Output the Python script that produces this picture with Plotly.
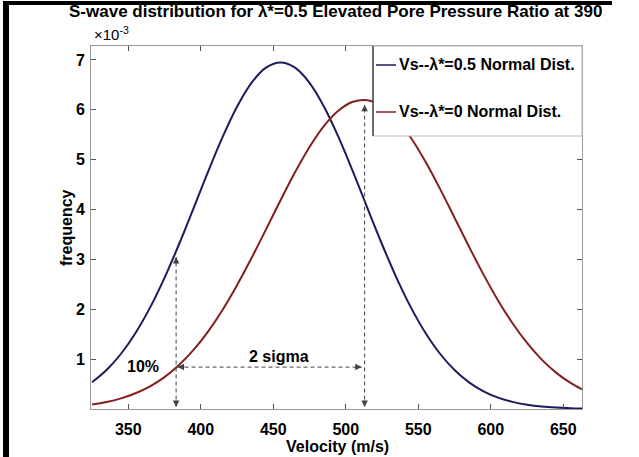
import plotly.graph_objects as go

# ---- data (frequency values in units of 1e-3) ----
velocity = [325, 335, 345, 355, 365, 375, 385, 395, 405, 415, 425, 435, 445, 455,
            465, 475, 485, 495, 505, 515, 525, 535, 545, 555, 565, 575, 585, 595,
            605, 615, 625, 635, 645, 655, 663]
freq_lambda05 = [0.535, 0.781, 1.108, 1.524, 2.033, 2.631, 3.304, 4.025, 4.756, 5.452,
                 6.063, 6.541, 6.845, 6.950, 6.845, 6.541, 6.063, 5.452, 4.756, 4.025,
                 3.304, 2.631, 2.033, 1.524, 1.108, 0.781, 0.535, 0.355, 0.229, 0.143,
                 0.087, 0.051, 0.029, 0.016, 0.010]
freq_lambda0 = [0.090, 0.140, 0.213, 0.315, 0.454, 0.640, 0.882, 1.184, 1.553, 1.987,
                2.483, 3.027, 3.603, 4.186, 4.747, 5.254, 5.677, 5.987, 6.163, 6.193,
                6.075, 5.816, 5.435, 4.957, 4.414, 3.837, 3.255, 2.695, 2.178, 1.719,
                1.324, 0.995, 0.730, 0.523, 0.393]
series_names = ["Vs--λ*=0.5 Normal Dist.", "Vs--λ*=0 Normal Dist."]
x_ticks = [350, 400, 450, 500, 550, 600, 650]
y_ticks = [1, 2, 3, 4, 5, 6, 7]

# annotation markers (data units)
ten_pct_x = 383        # 10% point on lambda*=0 curve
ten_pct_top = 3.05     # where vertical line meets lambda*=0.5 curve
ten_pct_y = 0.84       # level of the 2-sigma arrow
mean0_x = 513          # mean of lambda*=0 curve
mean0_top = 6.1

BLUE = "#1c1c5c"
RED = "#822020"
DASH = "#444444"
FONT = "Liberation Sans, Arial, sans-serif"

fig = go.Figure()
fig.add_trace(go.Scatter(x=velocity, y=freq_lambda05, mode="lines", name=series_names[0],
                         line=dict(color=BLUE, width=2, shape="spline"), showlegend=False))
fig.add_trace(go.Scatter(x=velocity, y=freq_lambda0, mode="lines", name=series_names[1],
                         line=dict(color=RED, width=2, shape="spline"), showlegend=False))

L, R, T, B = 91, 57, 46, 48
W, H = 639, 457
PW, PH = W - L - R, H - T - B


def px(xp):
    return (xp - L) / PW


def py(yp):
    return (H - B - yp) / PH


shapes = []
# dashed guide lines
dash = dict(color=DASH, width=1, dash="4px,3px")
shapes.append(dict(type="line", xref="x", yref="y", x0=ten_pct_x, x1=ten_pct_x,
                   y0=0.05, y1=ten_pct_top, line=dash))
shapes.append(dict(type="line", xref="x", yref="y", x0=mean0_x, x1=mean0_x,
                   y0=0.05, y1=mean0_top, line=dash))
shapes.append(dict(type="line", xref="x", yref="y", x0=ten_pct_x + 1, x1=mean0_x - 2,
                   y0=ten_pct_y, y1=ten_pct_y, line=dash))
# legend box
shapes.append(dict(type="rect", xref="paper", yref="paper", x0=px(373), x1=1, y0=py(136), y1=1,
                   line=dict(color="#bbbbbb", width=1), fillcolor="white", layer="above"))
shapes.append(dict(type="line", xref="paper", yref="paper", x0=px(373), x1=px(373), y0=py(136), y1=1,
                   line=dict(color="#222222", width=1.2), layer="above"))
# legend line samples
shapes.append(dict(type="line", xref="paper", yref="paper", x0=px(376), x1=px(396), y0=py(65), y1=py(65),
                   line=dict(color=BLUE, width=1.5), layer="above"))
shapes.append(dict(type="line", xref="paper", yref="paper", x0=px(376), x1=px(396), y0=py(112), y1=py(112),
                   line=dict(color=RED, width=1.5), layer="above"))
# black frame of the screenshot
shapes.append(dict(type="rect", xref="paper", yref="paper", x0=px(3), x1=px(9), y0=py(457), y1=py(1),
                   fillcolor="black", line=dict(width=0), layer="above"))
shapes.append(dict(type="rect", xref="paper", yref="paper", x0=px(3), x1=px(612), y0=py(5), y1=py(1),
                   fillcolor="black", line=dict(width=0), layer="above"))

ann = []


def arrow(x, y, ax, ay):
    ann.append(dict(x=x, y=y, xref="x", yref="y", ax=ax, ay=ay, axref="pixel", ayref="pixel",
                    text="", showarrow=True, arrowhead=2, arrowsize=1.3, arrowwidth=1,
                    arrowcolor=DASH))


arrow(ten_pct_x, ten_pct_top, 0, 8)
arrow(ten_pct_x, 0.04, 0, -8)
arrow(mean0_x, mean0_top, 0, 8)
arrow(mean0_x, 0.04, 0, -8)
arrow(ten_pct_x + 1, ten_pct_y, 8, 0)
arrow(mean0_x - 2, ten_pct_y, -8, 0)

bold = dict(family=FONT, size=16, color="black", weight="bold")
ann.append(dict(x=454, y=1.06, xref="x", yref="y", text="2 sigma", showarrow=False, font=bold))
ann.append(dict(x=360, y=0.86, xref="x", yref="y", text="10%", showarrow=False, font=bold))
# legend texts
for name, yy in zip(series_names, [65, 112]):
    ann.append(dict(x=px(397), y=py(yy), xref="paper", yref="paper", text=name, showarrow=False,
                    xanchor="left", yanchor="middle",
                    font=dict(family=FONT, size=16, color="black", weight="bold")))
# exponent label
ann.append(dict(x=px(92), y=py(45), xref="paper", yref="paper", text="×10<sup>-3</sup>",
                showarrow=False, xanchor="left", yanchor="bottom",
                font=dict(family=FONT, size=15, color="black")))
# axis titles
ann.append(dict(x=px(67), y=py(228), xref="paper", yref="paper", text="frequency", textangle=-90,
                showarrow=False, xanchor="center", yanchor="middle",
                font=dict(family=FONT, size=16, color="black", weight="bold")))
ann.append(dict(x=px(337), y=py(446), xref="paper", yref="paper", text="Velocity (m/s)",
                showarrow=False, xanchor="center", yanchor="middle",
                font=dict(family=FONT, size=16, color="black", weight="bold")))
# title
ann.append(dict(x=px(335), y=py(12), xref="paper", yref="paper",
                text="S-wave distribution for λ*=0.5 Elevated Pore Pressure Ratio at 390",
                showarrow=False, xanchor="center", yanchor="middle",
                font=dict(family=FONT, size=17, color="black", weight="bold")))

axis_common = dict(showgrid=False, zeroline=False, showline=True, linecolor="#999999", linewidth=1,
                   mirror="ticks", ticks="inside", ticklen=5, tickcolor="#555555",
                   tickfont=dict(family=FONT, size=16, color="black", weight="bold"))

fig.update_layout(
    width=W, height=H, autosize=False,
    margin=dict(l=L, r=R, t=T, b=B, pad=0),
    paper_bgcolor="white", plot_bgcolor="white",
    xaxis=dict(range=[324.3, 662.9], tickvals=x_ticks, ticklabelstandoff=6, **axis_common),
    yaxis=dict(range=[0, 7.28], tickvals=y_ticks, ticklabelstandoff=2, **axis_common),
    shapes=shapes, annotations=ann, showlegend=False,
)

fig.write_html("out.html")
